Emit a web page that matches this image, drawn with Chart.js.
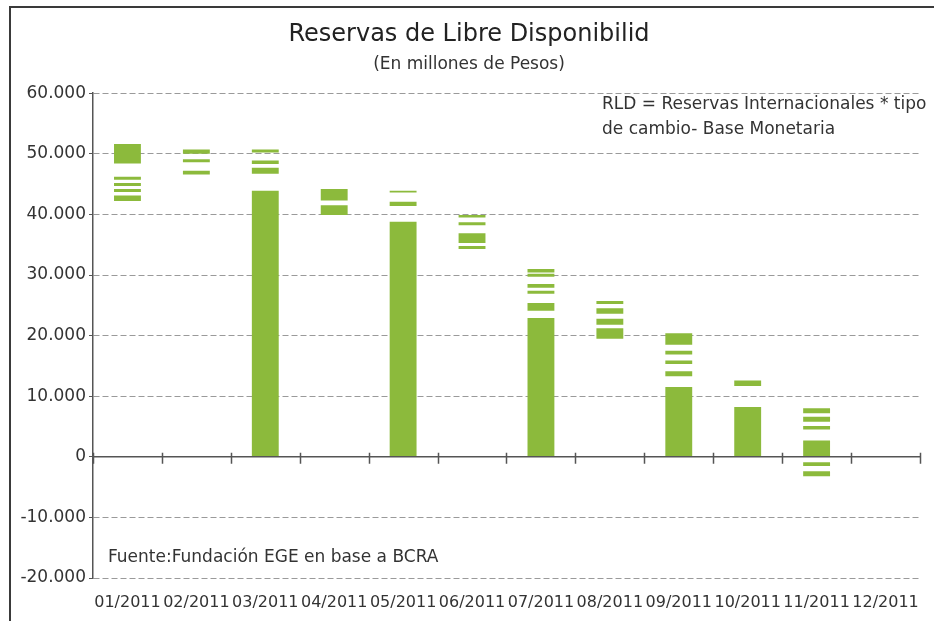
<!DOCTYPE html>
<html>
<head>
<meta charset="utf-8">
<script src="https://cdn.jsdelivr.net/npm/chart.js@4.4.1/dist/chart.umd.min.js"></script>
<style>
  html, body { margin: 0; padding: 0; background: #ffffff; }
  canvas { display: block; }
</style>
</head>
<body>
<canvas id="c" width="934" height="621"></canvas>
<script>
// ---- Data (millones de pesos) ----
const categories = ['01/2011','02/2011','03/2011','04/2011','05/2011','06/2011',
                    '07/2011','08/2011','09/2011','10/2011','11/2011','12/2011'];
const yTicks = [-20000, -10000, 0, 10000, 20000, 30000, 40000, 50000, 60000];

// Floating segments [desde, hasta] per month
const segEne = [[48400,51600],[45700,46200],[44700,45200],[43700,44200],[42200,43100]];
const segFeb = [[50000,50700],[48600,49100],[46600,47200]];
const segMar = [[50200,50700],[48300,48900],[46700,47700],[0,43900]];
const segAbr = [[42300,44200],[39900,41500]];
const segMay = [[43600,43900],[41400,42100],[0,38800]];
const segJun = [[39500,39900],[38200,38700],[35300,36900],[34300,34800]];
const segJul = [[30400,31000],[29700,30200],[27900,28500],[26900,27400],[24100,25400],[0,22900]];
const segAgo = [[25200,25700],[23600,24500],[21800,22800],[19500,21200]];
const segSep = [[18500,20400],[16900,17500],[15300,15900],[13300,14100],[0,11500]];
const segOct = [[11700,12600],[0,8200]];
const segNov = [[7200,8000],[5800,6600],[4500,5100],[0,2700],[-1500,-900],[-3200,-2400]];
const segDic = [];

const monthSegments = [segEne, segFeb, segMar, segAbr, segMay, segJun,
                       segJul, segAgo, segSep, segOct, segNov, segDic];

const titleText = 'Reservas de Libre Disponibilid';
const subtitleText = '(En millones de Pesos)';
const noteLine1 = 'RLD = Reservas Internacionales * tipo';
const noteLine2 = 'de cambio- Base Monetaria';
const sourceText = 'Fuente:Fundación EGE en base a BCRA';

// ---- Build datasets: one layer per segment index ----
const maxSeg = Math.max(...monthSegments.map(s => s.length));
const datasets = [];
for (let i = 0; i < maxSeg; i++) {
  datasets.push({
    label: 'seg' + (i + 1),
    data: monthSegments.map(s => (s[i] ? s[i] : null)),
    backgroundColor: '#8cba3c',
    borderWidth: 0,
    grouped: false,
    categoryPercentage: 1.0,
    barPercentage: 0.39
  });
}

function fmt(v) {
  const neg = v < 0;
  let s = Math.abs(v).toString().replace(/\B(?=(\d{3})+(?!\d))/g, '.');
  return (neg ? '-' : '') + s;
}

const FONT = 'DejaVu Sans';

// zero line with tick marks at category boundaries, taken from the scales
const zeroAxis = {
  id: 'zeroAxis',
  afterDatasetsDraw(chart) {
    const ctx = chart.ctx;
    const xs = chart.scales.x, ys = chart.scales.y;
    const y0 = ys.getPixelForValue(0);
    ctx.save();
    ctx.strokeStyle = '#555555';
    ctx.lineWidth = 1.5;
    ctx.beginPath();
    ctx.moveTo(xs.left, y0);
    ctx.lineTo(xs.right, y0);
    const n = chart.data.labels.length;
    for (let i = 0; i <= n; i++) {
      let x;
      if (i === 0) x = xs.left;
      else if (i === n) x = xs.right;
      else x = (xs.getPixelForValue(i - 1) + xs.getPixelForValue(i)) / 2;
      x = Math.round(x) + 0.5;
      ctx.moveTo(x, y0 - 4);
      ctx.lineTo(x, y0 + 7);
    }
    ctx.stroke();
    ctx.restore();
  }
};

const decor = {
  id: 'decor',
  afterDraw(chart) {
    const ctx = chart.ctx;
    const ca = chart.chartArea;
    ctx.save();
    // frame
    ctx.strokeStyle = '#3a3a3a';
    ctx.lineWidth = 2;
    ctx.beginPath();
    ctx.moveTo(10, 621);
    ctx.lineTo(10, 7);
    ctx.lineTo(934, 7);
    ctx.stroke();
    // notes
    ctx.fillStyle = '#333333';
    ctx.font = '17px "' + FONT + '"';
    ctx.textBaseline = 'middle';
    ctx.textAlign = 'left';
    ctx.fillText(noteLine1, ca.left + 509, ca.top + 11);
    ctx.fillText(noteLine2, ca.left + 509, ca.top + 36);
    ctx.fillText(sourceText, ca.left + 15, ca.bottom - 20);
    ctx.restore();
  }
};

new Chart(document.getElementById('c'), {
  type: 'bar',
  data: { labels: categories, datasets: datasets },
  options: {
    responsive: false,
    animation: false,
    devicePixelRatio: 1,
    layout: { padding: { left: 10, right: 6, top: 0, bottom: 9 } },
    plugins: {
      legend: { display: false },
      tooltip: { enabled: false },
      title: {
        display: true,
        text: titleText,
        color: '#222222',
        font: { family: FONT, size: 24, weight: 'normal' },
        padding: { top: 20, bottom: 2 }
      },
      subtitle: {
        display: true,
        text: subtitleText,
        color: '#333333',
        font: { family: FONT, size: 17, weight: 'normal' },
        padding: { top: 4, bottom: 18 }
      }
    },
    scales: {
      x: {
        type: 'category',
        offset: true,
        afterFit(scale) { scale.height = 34; },
        grid: { display: false, drawTicks: false },
        border: { display: false },
        ticks: {
          autoSkip: false, maxRotation: 0, minRotation: 0,
          padding: 15,
          color: '#333333',
          font: { family: FONT, size: 16 }
        }
      },
      y: {
        min: -20000,
        max: 60000,
        afterFit(scale) { scale.width = 83; },
        afterBuildTicks(scale) { scale.ticks = yTicks.map(v => ({ value: v })); },
        ticks: {
          color: '#333333',
          padding: 3,
          font: { family: FONT, size: 17 },
          callback: v => fmt(v)
        },
        grid: {
          color: ctx => (ctx.tick && ctx.tick.value === 0 ? 'rgba(0,0,0,0)' : '#9a9a9a'),
          tickColor: '#555555',
          tickLength: 4,
          lineWidth: 1
        },
        border: { display: true, color: '#555555', width: 1.5, dash: [6, 3] }
      }
    }
  },
  plugins: [zeroAxis, decor]
});
</script>
</body>
</html>
